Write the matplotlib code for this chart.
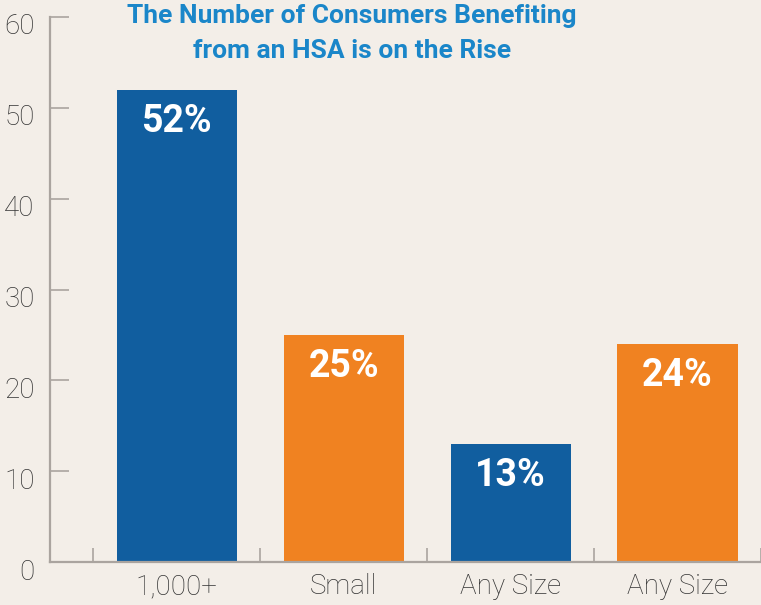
import numpy as np
import matplotlib
matplotlib.use('Agg')
import matplotlib.pyplot as plt
from matplotlib.transforms import ScaledTranslation

categories = ['1,000+', 'Small', 'Any Size', 'Any Size']
values = [52, 25, 13, 24]
bar_colors = ['#115e9f', '#f08221', '#115e9f', '#f08221']
title = 'The Number of Consumers Benefiting\nfrom an HSA is on the Rise'

BG = '#f3eee8'
AXIS = '#aaa49f'
TEXT = '#333333'

plt.rcParams['font.family'] = ['Roboto', 'DejaVu Sans']

fig = plt.figure(figsize=(7.61, 6.05), dpi=100, facecolor=BG)
ax = fig.add_axes([50 / 761, 43 / 605, 711 / 761, 545 / 605], facecolor=BG)

x = np.arange(len(categories))
ax.bar(x, values, width=0.72, color=bar_colors, zorder=2)

for xi, v in zip(x, values):
    ax.annotate(f'{v}%', (xi, v), xytext=(0, -23), textcoords='offset points',
                ha='center', va='center', color='white', fontsize=27,
                fontweight='bold')

ax.set_xlim(-0.76, 3.5)
ax.set_ylim(0, 60)
ax.set_yticks(range(0, 61, 10))
ax.set_xticks(x)
ax.set_xticklabels(categories)
ax.set_xticks(np.arange(-0.5, 3.6, 1.0), minor=True)

for s in ['top', 'right']:
    ax.spines[s].set_visible(False)
for s in ['left', 'bottom']:
    ax.spines[s].set_color(AXIS)
    ax.spines[s].set_linewidth(1.6)

ax.tick_params(axis='y', direction='in', length=14, width=1.2, color=AXIS,
               labelsize=20, labelcolor=TEXT, pad=11)
ax.tick_params(axis='x', which='major', length=0, labelsize=20,
               labelcolor=TEXT, pad=8)
ax.tick_params(axis='x', which='minor', direction='in', length=10, width=1.2,
               color=AXIS)

off = ScaledTranslation(0, -7 / 100, fig.dpi_scale_trans)
for lab in ax.get_yticklabels():
    lab.set_transform(lab.get_transform() + off)
    lab.set_fontweight('light')
for lab in ax.get_xticklabels():
    lab.set_fontweight('light')

fig.text(352 / 761, 1 - 4 / 605, title, ha='center', va='top', fontsize=19,
         fontweight='bold', color='#1a86c9', linespacing=1.6)

fig.savefig('out.png', dpi=100, facecolor=BG)
